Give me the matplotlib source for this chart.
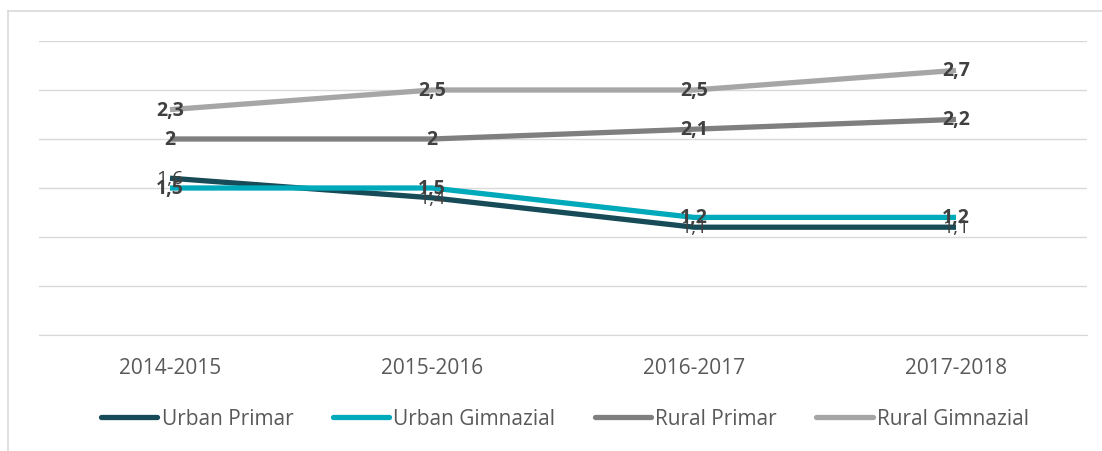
import matplotlib.pyplot as plt
from matplotlib.lines import Line2D

years = ["2014-2015", "2015-2016", "2016-2017", "2017-2018"]
urban_primar = [1.6, 1.4, 1.1, 1.1]
urban_gimnazial = [1.5, 1.5, 1.2, 1.2]
rural_primar = [2.0, 2.0, 2.1, 2.2]
rural_gimnazial = [2.3, 2.5, 2.5, 2.7]

series = [
    ("Urban Primar", urban_primar, "#174b57", "normal"),
    ("Urban Gimnazial", urban_gimnazial, "#00aabb", "bold"),
    ("Rural Primar", rural_primar, "#7f7f7f", "bold"),
    ("Rural Gimnazial", rural_gimnazial, "#a6a6a6", "bold"),
]

plt.rcParams["font.family"] = ["Open Sans", "DejaVu Sans"]

fig = plt.figure(figsize=(11.02, 4.52), dpi=100)
ax = fig.add_axes([39 / 1102, (452 - 336) / 452, (1087 - 39) / 1102, (336 - 42) / 452])

x = list(range(len(years)))
for name, vals, color, weight in series:
    ax.plot(x, vals, color=color, lw=3.8, solid_capstyle="butt", label=name, zorder=3)

for name, vals, color, weight in series:
    for xi, v in zip(x, vals):
        lab = ("%g" % v).replace(".", ",")
        ax.text(xi, v, lab, ha="center", va="center", fontsize=14,
                fontweight=weight, color="#404040", zorder=5)

ax.set_xlim(-0.5, 3.5)
ax.set_ylim(0, 3)
ax.set_yticks([0.5 * i for i in range(7)])
ax.yaxis.grid(True, color="#d9d9d9", lw=1)
ax.set_axisbelow(True)
ax.tick_params(axis="y", left=False, labelleft=False)
ax.tick_params(axis="x", bottom=False, labelsize=15, labelcolor="#595959", pad=12)
ax.set_xticks(x)
ax.set_xticklabels(years)
for s in ["top", "right", "left"]:
    ax.spines[s].set_visible(False)
ax.spines["bottom"].set_color("#d9d9d9")

handles = [Line2D([0], [0], color=c, lw=3.8, solid_capstyle="round") for _, _, c, _ in series]
fig.legend(handles, [s[0] for s in series], loc="center", bbox_to_anchor=(565 / 1102, 1 - 420 / 452),
           ncol=4, frameon=False, fontsize=15, labelcolor="#595959", handlelength=2.7,
           handletextpad=0.2, columnspacing=1.9, borderpad=0)

# chart border
fig.add_artist(Line2D([8 / 1102, 8 / 1102], [0, 1 - 12 / 452], transform=fig.transFigure, color="#d9d9d9", lw=1.2))
fig.add_artist(Line2D([8 / 1102, 1], [1 - 12 / 452, 1 - 12 / 452], transform=fig.transFigure, color="#d9d9d9", lw=1.2))

fig.savefig("out.png", dpi=100)
